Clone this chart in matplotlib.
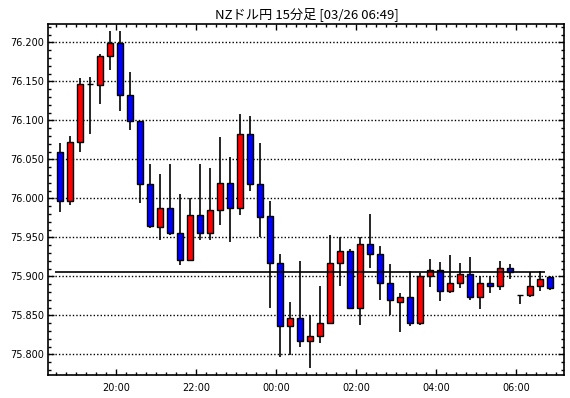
import matplotlib.pyplot as plt
from matplotlib.ticker import MultipleLocator, FixedLocator

# 15-minute candles, 18:30 -> 06:45
opens = [76.060, 75.997, 76.072, 76.146, 76.145, 76.182, 76.199, 76.132, 76.099, 76.018,
         75.963, 75.988, 75.956, 75.921, 75.978, 75.956, 75.985, 76.020, 75.988, 76.083,
         76.019, 75.977, 75.917, 75.836, 75.847, 75.817, 75.823, 75.840, 75.917, 75.932,
         75.860, 75.941, 75.928, 75.892, 75.867, 75.874, 75.840, 75.900, 75.908, 75.881,
         75.892, 75.903, 75.873, 75.891, 75.888, 75.911, 75.876, 75.876, 75.888, 75.899]
closes = [75.996, 76.072, 76.146, 76.146, 76.182, 76.199, 76.132, 76.099, 76.019, 75.964,
          75.988, 75.956, 75.921, 75.978, 75.956, 75.985, 76.020, 75.988, 76.083, 76.019,
          75.976, 75.917, 75.836, 75.847, 75.817, 75.823, 75.840, 75.917, 75.932, 75.860,
          75.941, 75.928, 75.891, 75.870, 75.874, 75.840, 75.900, 75.908, 75.881, 75.892,
          75.903, 75.873, 75.891, 75.888, 75.911, 75.905, 75.876, 75.888, 75.897, 75.885]
highs = [76.071, 76.080, 76.154, 76.155, 76.185, 76.214, 76.214, 76.162, 76.099, 76.044,
         76.031, 76.044, 76.006, 76.000, 76.044, 76.039, 76.079, 76.053, 76.108, 76.106,
         76.071, 75.996, 75.929, 75.867, 75.920, 75.850, 75.888, 75.953, 75.951, 75.935,
         75.950, 75.980, 75.939, 75.916, 75.878, 75.907, 75.904, 75.922, 75.918, 75.927,
         75.917, 75.925, 75.900, 75.900, 75.920, 75.916, 75.876, 75.905, 75.907, 75.901]
lows = [75.983, 75.992, 76.059, 76.082, 76.121, 76.165, 76.112, 76.088, 75.994, 75.962,
        75.947, 75.953, 75.915, 75.921, 75.947, 75.947, 75.966, 75.944, 75.978, 76.009,
        75.950, 75.859, 75.797, 75.799, 75.809, 75.782, 75.814, 75.840, 75.887, 75.858,
        75.837, 75.911, 75.870, 75.850, 75.828, 75.836, 75.837, 75.886, 75.869, 75.878,
        75.885, 75.870, 75.858, 75.879, 75.882, 75.897, 75.865, 75.874, 75.881, 75.882]

time_labels = ['20:00', '22:00', '00:00', '02:00', '04:00', '06:00']
label_index = [6, 14, 22, 30, 38, 46]   # candle index of each label time
ref_price = 75.905
title = 'NZドル円 15分足 [03/26 06:49]'

fig = plt.figure(figsize=(5.7, 3.98), dpi=100)
ax = fig.add_axes([48 / 570, 23 / 398, 516 / 570, 351 / 398])

for i, (o, h, l, c) in enumerate(zip(opens, highs, lows, closes)):
    ax.vlines(i, l, h, color='black', lw=1.2, zorder=2)
    if c > o:
        color = '#ff0000'
    elif c < o:
        color = '#0000ff'
    else:
        color = 'black'
    ax.bar(i, c - o, bottom=o, width=0.6, color=color, edgecolor='black', lw=1, zorder=3)

ax.hlines(ref_price, -0.5, len(opens) - 1.5, color='black', lw=1.2, zorder=4)

ax.set_xlim(-1.2, 50.4)
ax.set_ylim(75.7735, 76.2235)

ax.yaxis.set_major_locator(MultipleLocator(0.05))
ax.yaxis.set_minor_locator(MultipleLocator(0.01))
ax.yaxis.set_major_formatter(lambda v, p: f'{v:.3f}')
ax.xaxis.set_major_locator(FixedLocator([k - 0.4 for k in label_index]))
ax.xaxis.set_minor_locator(MultipleLocator(1, offset=0.6))
ax.set_xticklabels(time_labels)

ax.grid(axis='y', which='major', color='black', linestyle=(0, (1, 1.5)), lw=1, zorder=1)
ax.tick_params(which='both', direction='in', top=True, right=True, color='black',
               labelsize=7, pad=3)
ax.tick_params(axis='x', pad=6)
ax.tick_params(which='major', length=4, width=1)
ax.tick_params(which='minor', length=2, width=1)
for s in ax.spines.values():
    s.set_linewidth(1.2)

fig.text(307 / 570, 1 - 18 / 398, title, ha='center', va='baseline', fontsize=9.5,
         family=['Noto Sans CJK JP', 'DejaVu Sans'])

fig.savefig('out.png', dpi=100)
